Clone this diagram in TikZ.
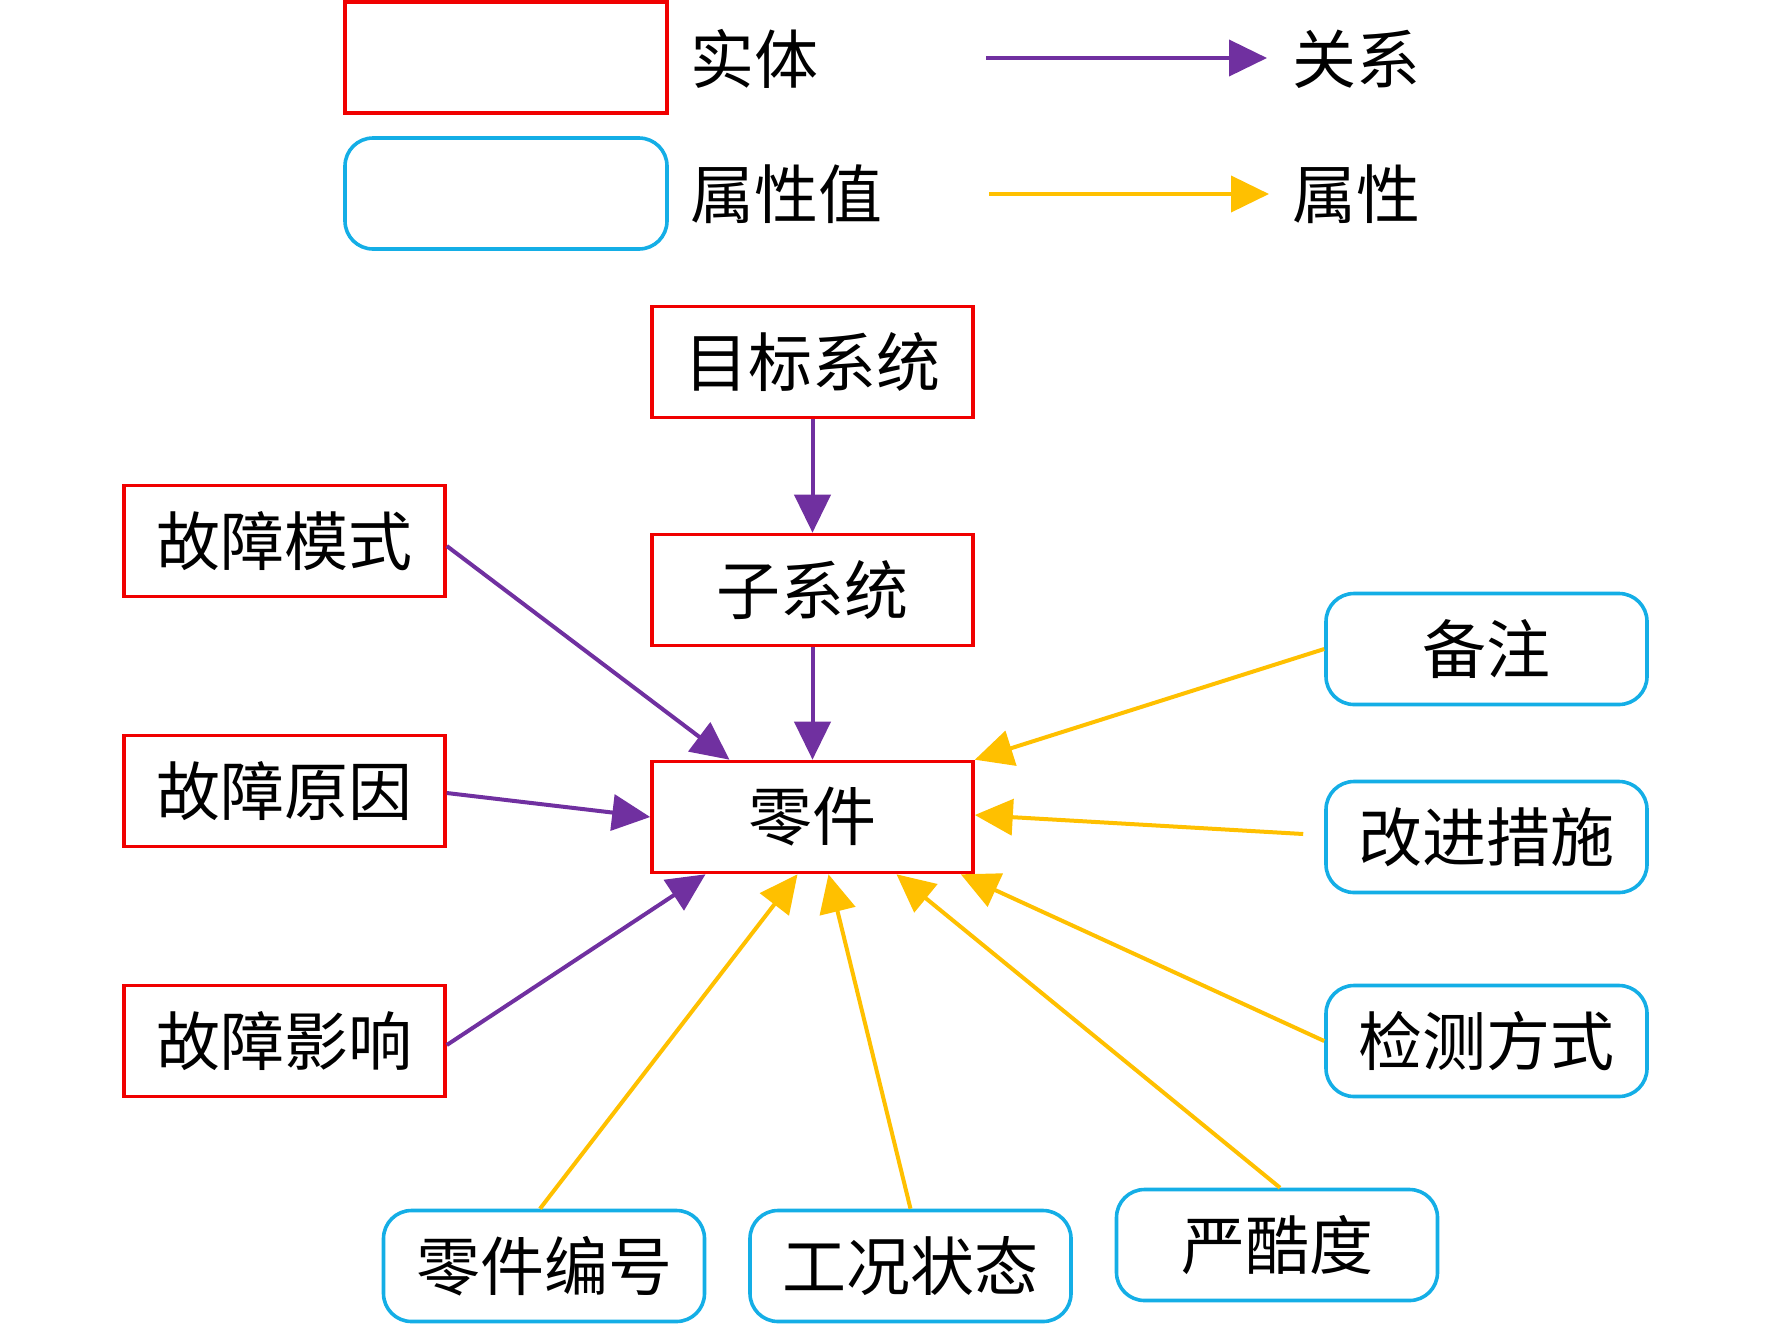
\documentclass[tikz,border=0pt]{standalone}
\usepackage{fontspec}
\setmainfont{Noto Sans CJK SC}
\usetikzlibrary{arrows.meta,calc}
\definecolor{entred}{RGB}{240,0,0}
\definecolor{attblue}{RGB}{20,174,230}
\definecolor{relpurple}{RGB}{112,48,160}
\definecolor{attyellow}{RGB}{255,192,0}
\begin{document}
\begin{tikzpicture}[x=0.5pt,y=-0.5pt,
  txt/.style={font=\fontsize{32}{32}\selectfont, inner sep=0pt},
  entity/.style={txt, draw=entred, line width=1.8pt, minimum width=160.5pt, minimum height=55.5pt},
  attval/.style={txt, draw=attblue, line width=1.8pt, rounded corners=14pt, minimum width=160.5pt, minimum height=55.5pt},
  rel/.style={draw=relpurple, line width=2pt, -{Triangle[length=19pt,width=18pt]}},
  att/.style={draw=attyellow, line width=2pt, -{Triangle[length=19pt,width=18pt]}},
  lbl/.style={txt, anchor=west}]
\useasboundingbox (0,0) rectangle (1772,1324);
% legend
\node[entity, minimum width=161pt] (legE) at (506,57.5) {};
\node[attval, minimum width=161pt] (legA) at (506,193.5) {};
\node[lbl] (legEt) at (690,59) {实体};
\node[lbl] (legAt) at (690,194) {属性值};
\coordinate (lr1) at (986,58);
\coordinate (lr2) at (1267,58);
\coordinate (la1) at (989,194);
\coordinate (la2) at (1269,194);
\draw[rel] (lr1) -- (lr2);
\draw[att] (la1) -- (la2);
\node[lbl] (legRt) at (1292,59) {关系};
\node[lbl] (legPt) at (1292,194) {属性};
% entities
\node[entity] (mb) at (812.5,362) {目标系统};
\node[entity] (zxt) at (812.5,590) {子系统};
\node[entity] (lj) at (812.5,817) {零件};
\node[entity] (gzms) at (284.5,541) {故障模式};
\node[entity] (gzyy) at (284.5,791) {故障原因};
\node[entity] (gzyx) at (284.5,1041) {故障影响};
% attribute values
\node[attval] (bz) at (1486.5,649) {备注};
\node[attval] (gjcs) at (1486.5,837) {改进措施};
\node[attval] (jcfs) at (1486.5,1041) {检测方式};
\node[attval] (ljbh) at (544,1266) {零件编号};
\node[attval] (gkzt) at (910.5,1266) {工况状态};
\node[attval] (ykd) at (1277,1245) {严酷度};
% relations
\draw[rel] (mb.south) -- (zxt.north);
\draw[rel] (zxt.south) -- (lj.north);
\draw[rel] ($(gzms.east)+(0,5)$) -- ($(lj.north)+(-83,0)$);
\draw[rel] ($(gzyy.east)+(0,2)$) -- (lj.west);
\draw[rel] ($(gzyx.east)+(0,4)$) -- ($(lj.south)+(-107,0)$);
% attributes
\draw[att] (bz.west) -- (lj.north east);
\draw[att] ($(gjcs.west)+(-21,-3)$) -- ($(lj.east)+(0,-2)$);
\draw[att] (jcfs.west) -- ($(lj.south east)+(-14,0)$);
\draw[att] ($(ljbh.north)+(-4,0)$) -- ($(lj.south)+(-15,0)$);
\draw[att] (gkzt.north) -- ($(lj.south)+(16,0)$);
\draw[att] ($(ykd.north)+(3,0)$) -- ($(lj.south)+(84,0)$);
\end{tikzpicture}
\end{document}
